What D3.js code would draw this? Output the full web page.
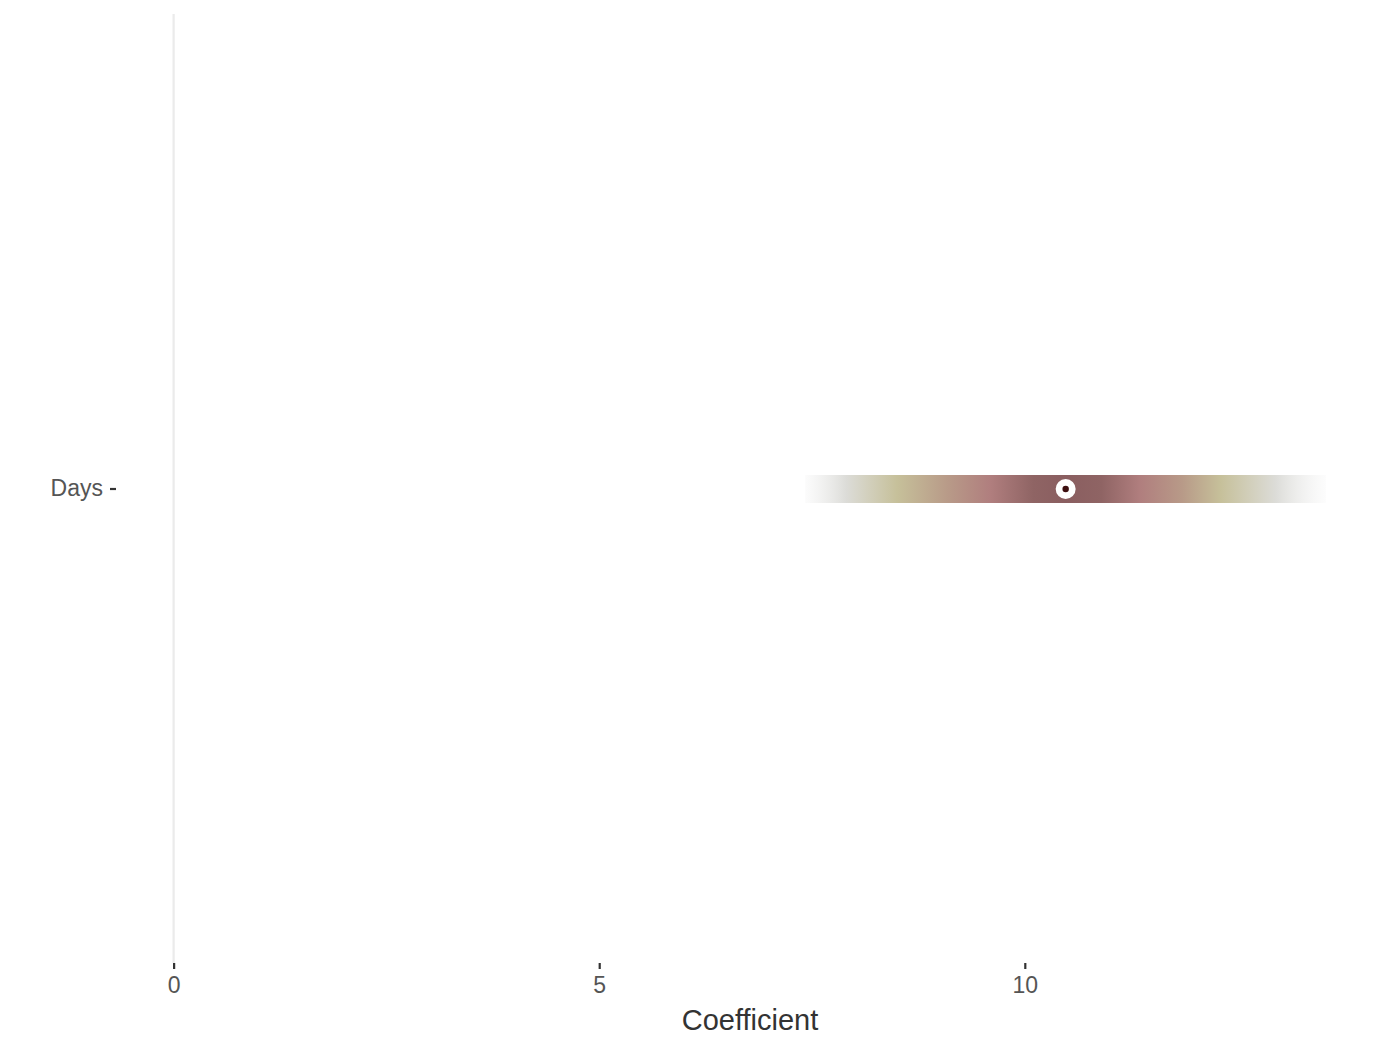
<!DOCTYPE html>
<html><head><meta charset="utf-8">
<script src="https://cdn.jsdelivr.net/npm/d3@7"></script>
<style>body{margin:0;background:#fff}</style>
</head><body>
<script>
const terms = ["Days"];
const estimates = [10.48];
const lowers = [7.42];
const uppers = [13.54];
const xTicks = [0, 5, 10];
const refLine = 0;
// gradient stops: coefficient value, colour, opacity
const stopValues = [7.42, 7.9, 8.5, 9.1, 9.6, 10.1, 10.48, 10.9, 11.35, 11.85, 12.3, 12.95, 13.54];
const stopColors = ["#e8e8e8","#dcdcd8","#c6c09a","#b89a88","#b07e7e","#8f6464","#8a5e60","#8f6464","#b07e7e","#b89a88","#c6c09a","#dcdcd8","#eeeeee"];
const stopOpacity = [0.15, 1, 1, 1, 1, 1, 1, 1, 1, 1, 1, 1, 0.15];

const W = 1400, H = 1050;
const m = {left: 116, right: 16, top: 15, bottom: 87};
const svg = d3.select("body").append("svg").attr("width", W).attr("height", H);

const x = d3.scaleLinear().domain([-0.677, 14.22]).range([m.left, W - m.right]);
const y = d3.scaleBand().domain(terms).range([m.top, H - m.bottom]);

// reference line
svg.append("line").attr("x1", x(refLine)).attr("x2", x(refLine))
  .attr("y1", m.top - 1).attr("y2", H - m.bottom)
  .attr("stroke", "#ebebeb").attr("stroke-width", 2.2);

const defs = svg.append("defs");
terms.forEach((t, i) => {
  const g = defs.append("linearGradient").attr("id", "grad" + i)
    .attr("gradientUnits", "userSpaceOnUse")
    .attr("x1", x(lowers[i])).attr("x2", x(uppers[i])).attr("y1", 0).attr("y2", 0);
  const span = uppers[i] - lowers[i];
  stopValues.forEach((v, k) => {
    g.append("stop").attr("offset", (v - lowers[i]) / span)
      .attr("stop-color", stopColors[k]).attr("stop-opacity", stopOpacity[k]);
  });
});

const barH = 28;
svg.selectAll("rect.iv").data(terms).join("rect").attr("class", "iv")
  .attr("x", (d, i) => x(lowers[i]))
  .attr("width", (d, i) => x(uppers[i]) - x(lowers[i]))
  .attr("y", d => y(d) + y.bandwidth() / 2 - barH / 2)
  .attr("height", barH)
  .attr("fill", (d, i) => "url(#grad" + i + ")");

svg.selectAll("circle.pt").data(terms).join("circle").attr("class", "pt")
  .attr("cx", (d, i) => x(estimates[i])).attr("cy", d => y(d) + y.bandwidth() / 2)
  .attr("r", 10).attr("fill", "#fff");
svg.selectAll("circle.pc").data(terms).join("circle").attr("class", "pc")
  .attr("cx", (d, i) => x(estimates[i])).attr("cy", d => y(d) + y.bandwidth() / 2)
  .attr("r", 3.2).attr("fill", "#3d0f10");

const font = "Liberation Sans, Arial, sans-serif";
// x axis
const xa = svg.append("g").attr("transform", `translate(0,${H - m.bottom})`)
  .call(d3.axisBottom(x).tickValues(xTicks).tickSize(6).tickPadding(8).tickFormat(d3.format("d")));
xa.select(".domain").remove();
xa.selectAll("line").attr("stroke", "#333").attr("stroke-width", 2.2);
xa.selectAll("text").attr("fill", "#555").style("font-family", font).style("font-size", "23px");

// y axis
const ya = svg.append("g").attr("transform", `translate(${m.left},0)`)
  .call(d3.axisLeft(y).tickSize(6).tickPadding(7));
ya.select(".domain").remove();
ya.selectAll("line").attr("stroke", "#333").attr("stroke-width", 2.2);
ya.selectAll("text").attr("fill", "#555").style("font-family", font).style("font-size", "23px");

svg.append("text").attr("x", (m.left + W - m.right) / 2).attr("y", 1030)
  .attr("text-anchor", "middle").attr("fill", "#333")
  .style("font-family", font).style("font-size", "29px")
  .text("Coefficient");
</script>
</body></html>
